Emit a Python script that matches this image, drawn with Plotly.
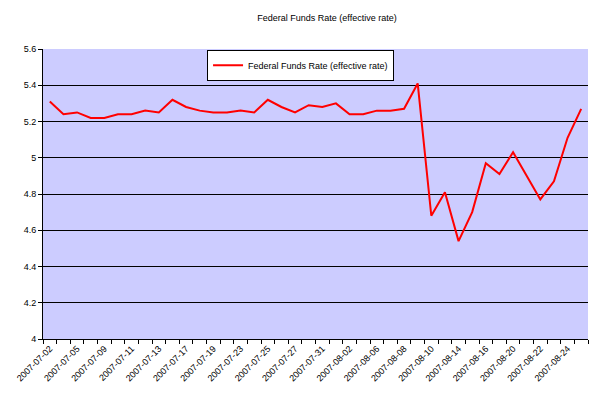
import plotly.graph_objects as go

dates = ["2007-07-02", "2007-07-03", "2007-07-05", "2007-07-06", "2007-07-09",
         "2007-07-10", "2007-07-11", "2007-07-12", "2007-07-13", "2007-07-16",
         "2007-07-17", "2007-07-18", "2007-07-19", "2007-07-20", "2007-07-23",
         "2007-07-24", "2007-07-25", "2007-07-26", "2007-07-27", "2007-07-30",
         "2007-07-31", "2007-08-01", "2007-08-02", "2007-08-03", "2007-08-06",
         "2007-08-07", "2007-08-08", "2007-08-09", "2007-08-10", "2007-08-13",
         "2007-08-14", "2007-08-15", "2007-08-16", "2007-08-17", "2007-08-20",
         "2007-08-21", "2007-08-22", "2007-08-23", "2007-08-24", "2007-08-27"]

rates = [5.31, 5.24, 5.25, 5.22, 5.22, 5.24, 5.24, 5.26, 5.25, 5.32,
         5.28, 5.26, 5.25, 5.25, 5.26, 5.25, 5.32, 5.28, 5.25, 5.29,
         5.28, 5.30, 5.24, 5.24, 5.26, 5.26, 5.27, 5.41, 4.68, 4.81,
         4.54, 4.70, 4.97, 4.91, 5.03, 4.90, 4.77, 4.87, 5.11, 5.27]

series_name = "Federal Funds Rate (effective rate)"
chart_title = "Federal Funds Rate (effective rate)"

x_idx = list(range(len(dates)))
label_idx = x_idx[::2]
label_text = dates[::2]

FONT = "Arial, Liberation Sans, sans-serif"

fig = go.Figure()
fig.add_trace(go.Scatter(
    x=x_idx, y=rates, mode="lines", name=series_name,
    line=dict(color="#FF0000", width=2),
))

fig.update_layout(
    width=600, height=399,
    margin=dict(l=43, r=12, t=49, b=60),
    paper_bgcolor="white",
    plot_bgcolor="#CCCCFF",
    font=dict(family=FONT, size=9, color="black"),
    title=dict(text=chart_title, x=0.545, xref="container", xanchor="center",
               y=1 - 18 / 399, yref="container", yanchor="middle",
               font=dict(family=FONT, size=9, color="black")),
    showlegend=True,
    legend=dict(x=0.301, xanchor="left", y=0.997, yanchor="top",
                bgcolor="white", bordercolor="black", borderwidth=1,
                font=dict(family=FONT, size=9, color="black"),
                itemwidth=30),
    xaxis=dict(
        range=[-0.5, len(dates) - 0.5],
        tickmode="array", tickvals=label_idx, ticktext=label_text,
        tickangle=-45, ticks="", showgrid=False, zeroline=False,
        showline=True, linecolor="black", linewidth=1,
        tickfont=dict(family=FONT, size=9, color="black"),
        minor=dict(tickmode="linear", tick0=-0.5, dtick=1, ticks="outside",
                   ticklen=4, tickcolor="black", showgrid=False),
    ),
    yaxis=dict(
        range=[4, 5.6], tickmode="linear", tick0=4, dtick=0.2,
        ticks="outside", ticklen=4, tickcolor="black",
        showgrid=True, gridcolor="black", gridwidth=1, zeroline=False,
        showline=True, linecolor="black", linewidth=1,
        tickfont=dict(family=FONT, size=9, color="black"),
    ),
)

fig.write_html("out.html")
